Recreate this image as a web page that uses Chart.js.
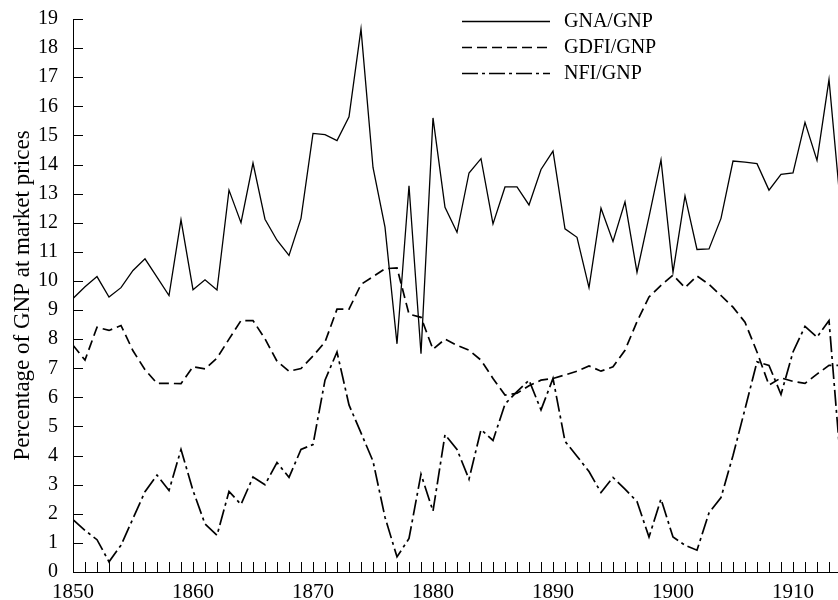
<!DOCTYPE html>
<html>
<head>
<meta charset="utf-8">
<title>GNA, GDFI and NFI as percentage of GNP</title>
<script src="https://cdn.jsdelivr.net/npm/chart.js@4.4.1/dist/chart.umd.min.js"></script>
<style>
  html, body { margin: 0; padding: 0; background: #fff; }
  #chart { display: block; }
</style>
</head>
<body>
<canvas id="chart" width="838" height="600"></canvas>
<script>
// years on the x axis
var years = [1850, 1851, 1852, 1853, 1854, 1855, 1856, 1857, 1858, 1859,
             1860, 1861, 1862, 1863, 1864, 1865, 1866, 1867, 1868, 1869,
             1870, 1871, 1872, 1873, 1874, 1875, 1876, 1877, 1878, 1879,
             1880, 1881, 1882, 1883, 1884, 1885, 1886, 1887, 1888, 1889,
             1890, 1891, 1892, 1893, 1894, 1895, 1896, 1897, 1898, 1899,
             1900, 1901, 1902, 1903, 1904, 1905, 1906, 1907, 1908, 1909,
             1910, 1911, 1912, 1913, 1914];

// GNA/GNP
var gna = [9.4, 9.8, 10.15, 9.45, 9.77, 10.36, 10.76, 10.13, 9.5, 12.1,
           9.7, 10.04, 9.69, 13.12, 12.0, 14.05, 12.12, 11.4, 10.88, 12.15,
           15.07, 15.03, 14.82, 15.64, 18.66, 13.9, 11.85, 7.84, 13.27, 7.5,
           15.6, 12.53, 11.67, 13.71, 14.2, 11.96, 13.23, 13.23, 12.61, 13.83,
           14.46, 11.79, 11.5, 9.77, 12.5, 11.36, 12.72, 10.3, 12.2, 14.16,
           10.3, 12.92, 11.08, 11.1, 12.15, 14.12, 14.08, 14.03, 13.12, 13.66,
           13.71, 15.45, 14.14, 16.92, 12.4];

// GDFI/GNP
var gdfi = [7.79, 7.28, 8.41, 8.3, 8.47, 7.6, 6.95, 6.48, 6.48, 6.47,
            7.05, 6.98, 7.35, 8.0, 8.64, 8.64, 8.01, 7.24, 6.9, 6.99,
            7.42, 7.9, 9.03, 9.03, 9.88, 10.15, 10.42, 10.45, 8.86, 8.75,
            7.65, 8.0, 7.79, 7.62, 7.28, 6.65, 6.08, 6.14, 6.4, 6.59,
            6.65, 6.77, 6.9, 7.08, 6.9, 7.05, 7.62, 8.6, 9.45, 9.85,
            10.2, 9.77, 10.17, 9.88, 9.5, 9.1, 8.58, 7.56, 6.42, 6.67,
            6.55, 6.48, 6.8, 7.1, 7.1];

// NFI/GNP
var nfi = [1.8, 1.43, 1.11, 0.35, 0.92, 1.84, 2.76, 3.33, 2.8, 4.21,
           2.8, 1.65, 1.26, 2.77, 2.32, 3.26, 3.0, 3.76, 3.25, 4.21,
           4.38, 6.59, 7.56, 5.74, 4.78, 3.81, 1.88, 0.52, 1.15, 3.36,
           2.09, 4.72, 4.21, 3.19, 4.89, 4.52, 5.77, 6.2, 6.59, 5.57,
           6.65, 4.49, 3.98, 3.45, 2.73, 3.25, 2.85, 2.42, 1.2, 2.51,
           1.2, 0.92, 0.75, 2.03, 2.56, 4.0, 5.6, 7.22, 7.1, 6.1,
           7.56, 8.44, 8.07, 8.64, 3.6];

var FONT = "'Liberation Serif', 'Times New Roman', serif";

function points(values) {
	return values.map(function (v, i) { return { x: years[i], y: v }; });
}

// tick marks drawn inside the plot, as in the original figure
var insideTicks = {
	id: 'insideTicks',
	afterDraw: function (chart) {
		var ctx = chart.ctx, xs = chart.scales.x, ys = chart.scales.y;
		ctx.save();
		ctx.strokeStyle = '#000';
		ctx.lineWidth = 1;
		ctx.beginPath();
		xs.ticks.forEach(function (t) {
			var px = Math.round(xs.getPixelForValue(t.value)) + 0.5;
			ctx.moveTo(px, xs.top);
			ctx.lineTo(px, xs.top - 10);
		});
		ys.ticks.forEach(function (t) {
			var py = Math.round(ys.getPixelForValue(t.value)) + 0.5;
			ctx.moveTo(ys.right, py);
			ctx.lineTo(ys.right + 10, py);
		});
		ctx.stroke();
		ctx.restore();
	}
};

// legend in the top right corner: line sample then label
var lineLegend = {
	id: 'lineLegend',
	afterDraw: function (chart) {
		var ctx = chart.ctx;
		ctx.save();
		chart.data.datasets.forEach(function (ds, i) {
			var y = 21 + i * 26;
			ctx.beginPath();
			ctx.strokeStyle = ds.borderColor;
			ctx.lineWidth = ds.borderWidth;
			ctx.setLineDash(ds.borderDash || []);
			ctx.moveTo(462, y + 0.5);
			ctx.lineTo(550, y + 0.5);
			ctx.stroke();
			ctx.setLineDash([]);
			ctx.fillStyle = '#000';
			ctx.font = '20px ' + FONT;
			ctx.textBaseline = 'middle';
			ctx.textAlign = 'left';
			ctx.fillText(ds.label, 564, y + 1);
		});
		ctx.restore();
	}
};

var ctx = document.getElementById('chart').getContext('2d');
var myChart = new Chart(ctx, {
	type: 'line',
	data: {
		datasets: [{
			label: 'GNA/GNP',
			data: points(gna),
			borderColor: '#000',
			borderWidth: 1.3,
			pointRadius: 0,
			tension: 0,
			fill: false
		}, {
			label: 'GDFI/GNP',
			data: points(gdfi),
			borderColor: '#000',
			borderWidth: 1.7,
			borderDash: [10, 5],
			pointRadius: 0,
			tension: 0,
			fill: false
		}, {
			label: 'NFI/GNP',
			data: points(nfi),
			borderColor: '#000',
			borderWidth: 1.7,
			borderDash: [16, 4, 3, 4],
			pointRadius: 0,
			tension: 0,
			fill: false
		}]
	},
	options: {
		responsive: false,
		animation: false,
		layout: { padding: { top: 14, right: 0, bottom: 0, left: 0 } },
		plugins: {
			legend: { display: false },
			tooltip: { enabled: false }
		},
		scales: {
			x: {
				type: 'linear',
				min: 1850,
				max: 1913.75,
				grid: { display: false },
				border: { display: true, color: '#000', width: 1 },
				ticks: {
					stepSize: 1,
					autoSkip: false,
					includeBounds: false,
					maxRotation: 0,
					padding: 0,
					color: '#000',
					font: { family: FONT, size: 21 },
					callback: function (value) {
						return value % 10 === 0 ? String(value) : '';
					}
				},
				afterFit: function (scale) { scale.height = 28; }
			},
			y: {
				min: 0,
				max: 19,
				grid: { display: false },
				border: { display: true, color: '#000', width: 1 },
				ticks: {
					stepSize: 1,
					padding: 7,
					color: '#000',
					font: { family: FONT, size: 20 }
				},
				title: {
					display: true,
					text: 'Percentage of GNP at market prices',
					color: '#000',
					font: { family: FONT, size: 23 },
					padding: { top: 9, bottom: 0 }
				},
				afterFit: function (scale) { scale.width = 73; }
			}
		}
	},
	plugins: [insideTicks, lineLegend]
});
</script>
</body>
</html>
